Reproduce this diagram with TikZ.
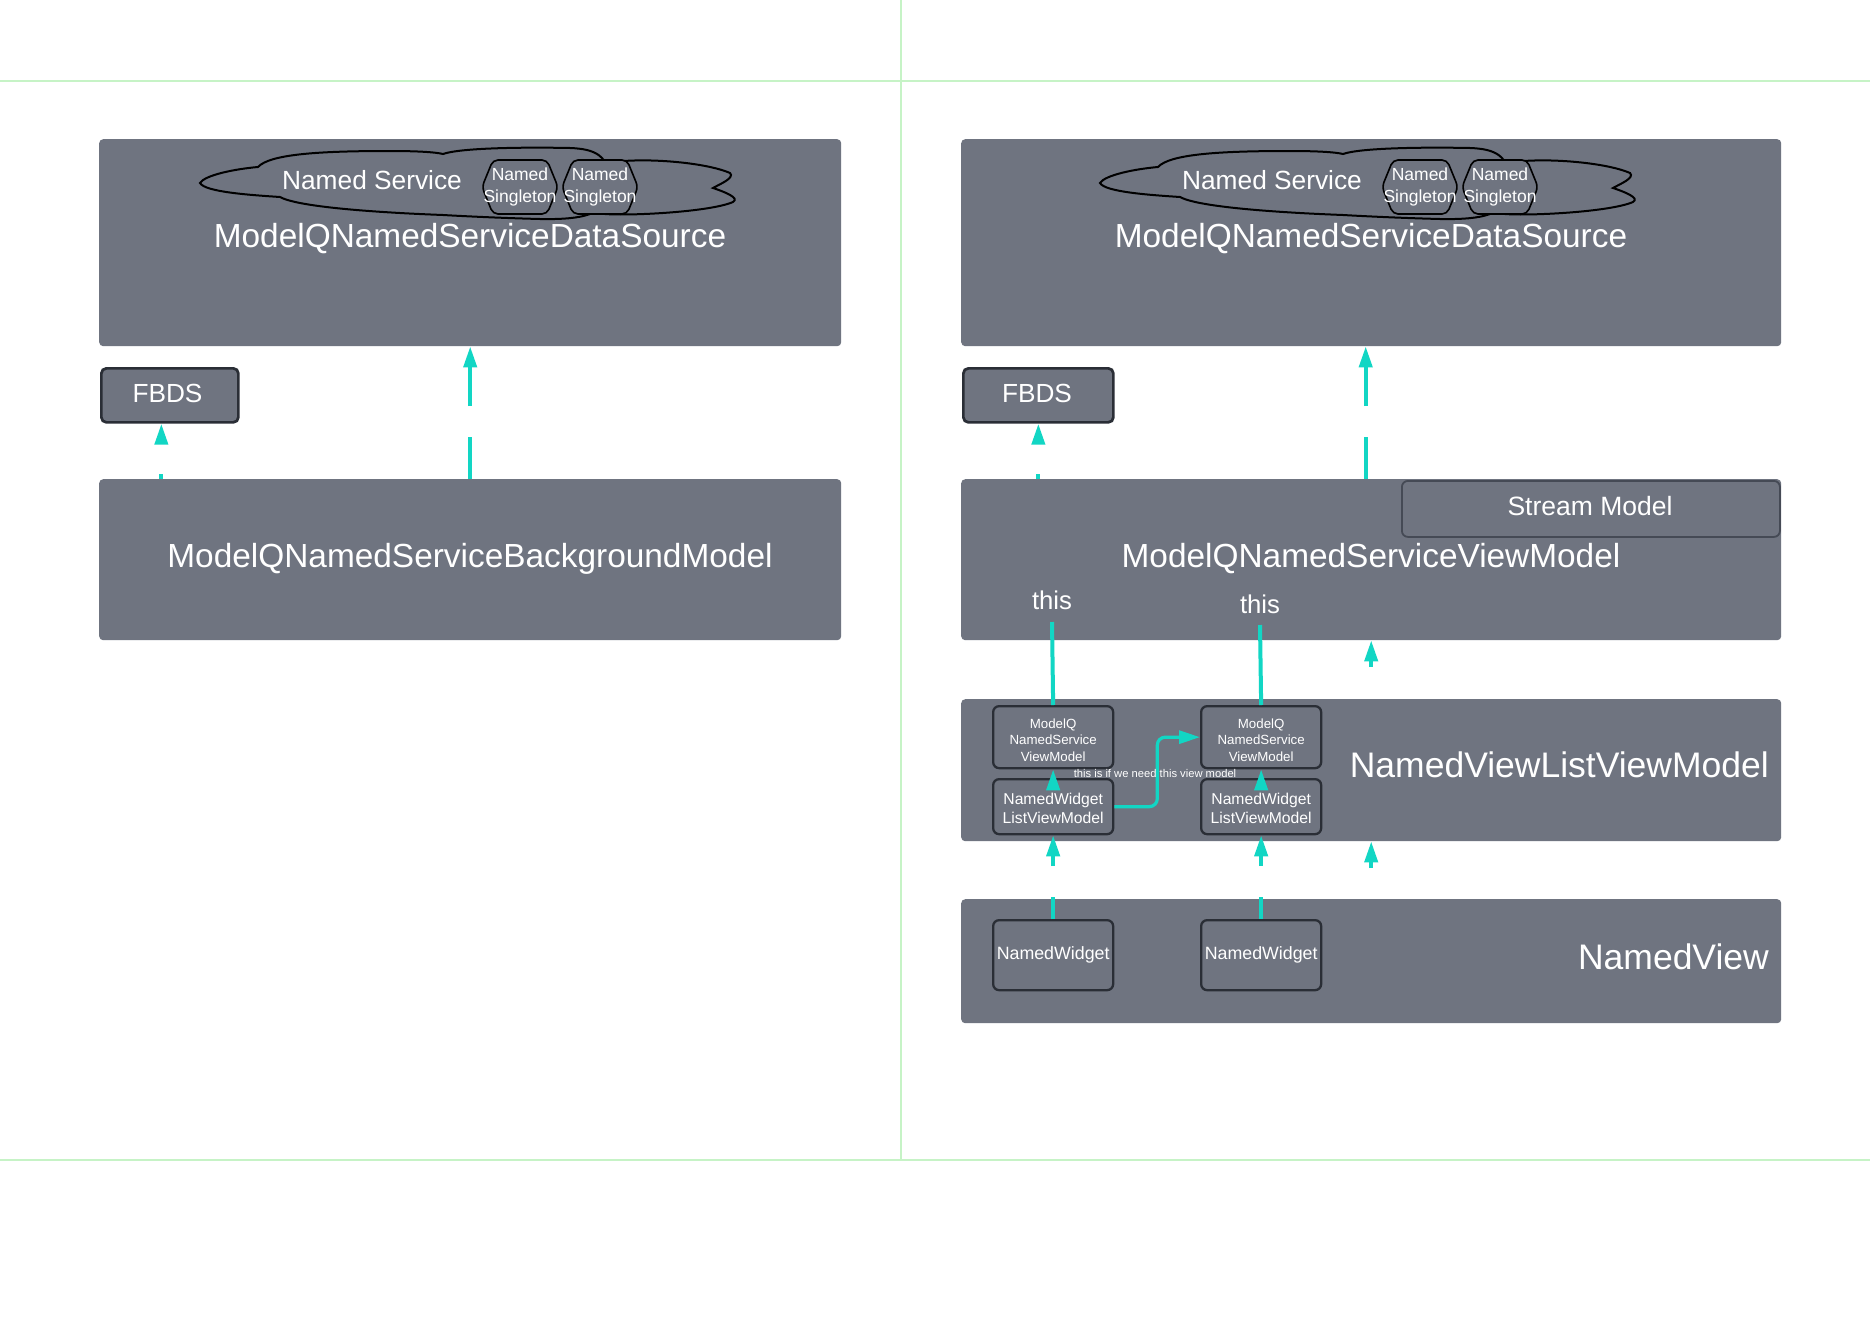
\documentclass[tikz,border=0pt]{standalone}
\usepackage{fontspec}
\setmainfont{Liberation Sans}
\usetikzlibrary{arrows.meta,calc}
\definecolor{boxgray}{HTML}{6F7480}
\definecolor{boxline}{HTML}{2A2E36}
\definecolor{smline}{HTML}{454A55}
\definecolor{flowc}{HTML}{12D6C4}
\definecolor{gridg}{HTML}{C6F3C6}
\newcommand{\fs}[1]{\fontsize{#1}{1.2\dimexpr#1pt\relax}\selectfont}
\newcommand{\cloudshapes}{%
  \draw[black, line width=2pt, fill=boxgray]
    (1100,183) .. controls (1105,175) and (1135,169) .. (1158,167)
    .. controls (1170,154) and (1220,151) .. (1290,151)
    .. controls (1315,151) and (1335,152) .. (1343,154)
    .. controls (1360,148) and (1420,147) .. (1470,148)
    .. controls (1495,149) and (1510,155) .. (1510,185)
    .. controls (1510,212) and (1490,220) .. (1440,219)
    .. controls (1400,218) and (1360,216) .. (1343,215)
    .. controls (1290,213) and (1200,208) .. (1180,197)
    .. controls (1150,195) and (1105,192) .. (1100,183) -- cycle;
  \draw[black, line width=2pt]
    (1497,166) .. controls (1520,156) and (1600,160) .. (1630,173)
    .. controls (1635,178) and (1620,184) .. (1613,188)
    .. controls (1625,192) and (1640,198) .. (1633,202)
    .. controls (1610,212) and (1530,216) .. (1505,214);
  \hexat{1420}\hexat{1500}}
\newcommand{\hexat}[1]{%
  \draw[black, line width=1.6pt, fill=boxgray, rounded corners=5pt]
    (#1-38,187) -- (#1-27,160) -- (#1+27,160) -- (#1+38,187)
    -- (#1+27,214) -- (#1-27,214) -- cycle;}
\tikzset{
  bigbox/.style={fill=boxgray, rounded corners=4pt, inner sep=0pt, anchor=north west},
  smallbox/.style={fill=boxgray, draw=boxline, line width=2.3pt, rounded corners=6pt,
    inner sep=0pt, anchor=north west, text=white, align=center},
  boxtext/.style={text=white, align=center, inner sep=0pt},
  lbl/.style={text=white, anchor=base, inner sep=0pt},
  flow/.style={draw=flowc, line width=4pt, -{Triangle[length=21pt,width=13pt]}},
  plainflow/.style={draw=flowc, line width=4pt},
}
\begin{document}
\begin{tikzpicture}[x=1pt,y=-1pt]
\useasboundingbox[fill=white] (0,0) rectangle (1870,1322);
% grid lines
\draw[gridg, line width=2pt] (0,81) -- (1870,81);
\draw[gridg, line width=2pt] (0,1160) -- (1870,1160);
\draw[gridg, line width=2pt] (901,0) -- (901,1160);

% ---------- left column ----------
\node[bigbox, minimum width=742pt, minimum height=207pt] (dsL) at (99,139) {};
\begin{scope}[xshift=-900pt]\cloudshapes\end{scope}
\node[lbl, font=\fs{26.3}] (nsL) at (372,189) {Named Service};
\node[lbl, font=\fs{17.5}] (h1aL) at (520,180) {Named};
\node[lbl, font=\fs{17.5}] (h1bL) at (520,202) {Singleton};
\node[lbl, font=\fs{17.5}] (h2aL) at (600,180) {Named};
\node[lbl, font=\fs{17.5}] (h2bL) at (600,202) {Singleton};
\node[lbl, font=\fs{33.4}] (tdsL) at (470,247) {ModelQNamedServiceDataSource};

\node[smallbox, minimum width=137pt, minimum height=54pt, rounded corners=5pt, line width=2.7pt] (fbL) at (100,367) {};
\node[lbl, font=\fs{26.2}] (tfbL) at (167.5,402) {FBDS};

\node[bigbox, minimum width=742pt, minimum height=161pt] (bgL) at (99,479) {};
\node[lbl, font=\fs{33.4}] (tbgL) at (470,567) {ModelQNamedServiceBackgroundModel};

\draw[flow, dash pattern=on 5pt off 40pt] ([xshift=-8.5pt]fbL.south |- bgL.north) -- ([xshift=-8.5pt]fbL.south);
\draw[flow, dash pattern=on 42pt off 31pt] (bgL.north) -- (dsL.south);

% ---------- right column ----------
\node[bigbox, minimum width=820pt, minimum height=207pt] (dsR) at (961,139) {};
\cloudshapes
\node[lbl, font=\fs{26.3}] (nsR) at (1272,189) {Named Service};
\node[lbl, font=\fs{17.5}] (h1aR) at (1420,180) {Named};
\node[lbl, font=\fs{17.5}] (h1bR) at (1420,202) {Singleton};
\node[lbl, font=\fs{17.5}] (h2aR) at (1500,180) {Named};
\node[lbl, font=\fs{17.5}] (h2bR) at (1500,202) {Singleton};
\node[lbl, font=\fs{33.4}] (tdsR) at (1371,247) {ModelQNamedServiceDataSource};

\node[smallbox, minimum width=150pt, minimum height=54pt, rounded corners=5pt, line width=2.7pt] (fbR) at (962,367) {};
\node[lbl, font=\fs{26.2}] (tfbR) at (1037,402) {FBDS};

\node[bigbox, minimum width=820pt, minimum height=161pt] (vmR) at (961,479) {};
\node[smallbox, draw=smline, line width=1.8pt, minimum width=378pt, minimum height=56pt] (smR) at (1401,480) {};
\node[lbl, font=\fs{26.5}] (tsmR) at (1590,515) {Stream Model};
\node[lbl, font=\fs{33.4}] (tvmR) at (1371,567) {ModelQNamedServiceViewModel};
\node[lbl, font=\fs{25.7}] (this1) at (1052,609) {this};
\node[lbl, font=\fs{25.7}] (this2) at (1260,613) {this};

\draw[flow, dash pattern=on 5pt off 40pt] (fbR.south |- vmR.north) -- (fbR.south);
\draw[flow, dash pattern=on 42pt off 31pt] ([xshift=-5.5pt]vmR.north) -- ([xshift=-5.5pt]dsR.south);

% NamedViewListViewModel
\node[bigbox, minimum width=820pt, minimum height=142pt] (nvlvm) at (961,699) {};
\node[lbl, anchor=base east, font=\fs{35.5}] (tnvlvm) at (1769,777) {NamedViewListViewModel};
\node[smallbox, minimum width=120pt, minimum height=62pt] (mq1) at (992,705) {};
\node[smallbox, minimum width=120pt, minimum height=62pt] (mq2) at (1200,705) {};
\node[smallbox, minimum width=120pt, minimum height=55pt] (nw1l) at (992,778) {};
\node[smallbox, minimum width=120pt, minimum height=55pt] (nw2l) at (1200,778) {};
\node[boxtext, font=\fontsize{13.3}{16.5}\selectfont] (mq1t) at ($(mq1.center)+(0,3)$) {ModelQ\\NamedService\\ViewModel};
\node[boxtext, font=\fontsize{13.3}{16.5}\selectfont] (mq2t) at ($(mq2.center)+(0,3)$) {ModelQ\\NamedService\\ViewModel};
\node[boxtext, font=\fontsize{15.7}{19}\selectfont] (nw1t) at ($(nw1l.center)+(0,2)$) {NamedWidget\\ListViewModel};
\node[boxtext, font=\fontsize{15.7}{19}\selectfont] (nw2t) at ($(nw2l.center)+(0,2)$) {NamedWidget\\ListViewModel};

\draw[plainflow] ($(this1.base)+(0,13)$) -- (mq1.north);
\draw[plainflow] ($(this2.base)+(0,12)$) -- (mq2.north);
\draw[flow] ($(nw1l.north)+(0,12)$) -- (mq1.south);
\draw[flow] ($(nw2l.north)+(0,12)$) -- (mq2.south);
\draw[flow, line width=3.2pt, rounded corners=8pt] (nw1l.east) -- ++(43,0) |- (mq2.west);
\node[lbl, font=\fs{11.2}] (note) at (1155,777) {this is if we need this view model};

\draw[flow, dash pattern=on 40pt off 32pt, dash phase=40pt] (nvlvm.north) -- (vmR.south);

% NamedView
\node[bigbox, minimum width=820pt, minimum height=124pt] (nv) at (961,899) {};
\node[lbl, anchor=base east, font=\fs{35.5}] (tnv) at (1769,969) {NamedView};
\node[smallbox, minimum width=120pt, minimum height=70pt, font=\fs{17.8}] (wd1) at (992,919) {NamedWidget};
\node[smallbox, minimum width=120pt, minimum height=70pt, font=\fs{17.8}] (wd2) at (1200,919) {NamedWidget};

\draw[flow, dash pattern=on 22pt off 31pt] (wd1.north) -- (nw1l.south);
\draw[flow, dash pattern=on 22pt off 31pt] (wd2.north) -- (nw2l.south);
\draw[flow, dash pattern=on 40pt off 31pt, dash phase=40pt] (nv.north) -- (nvlvm.south);
\end{tikzpicture}
\end{document}
